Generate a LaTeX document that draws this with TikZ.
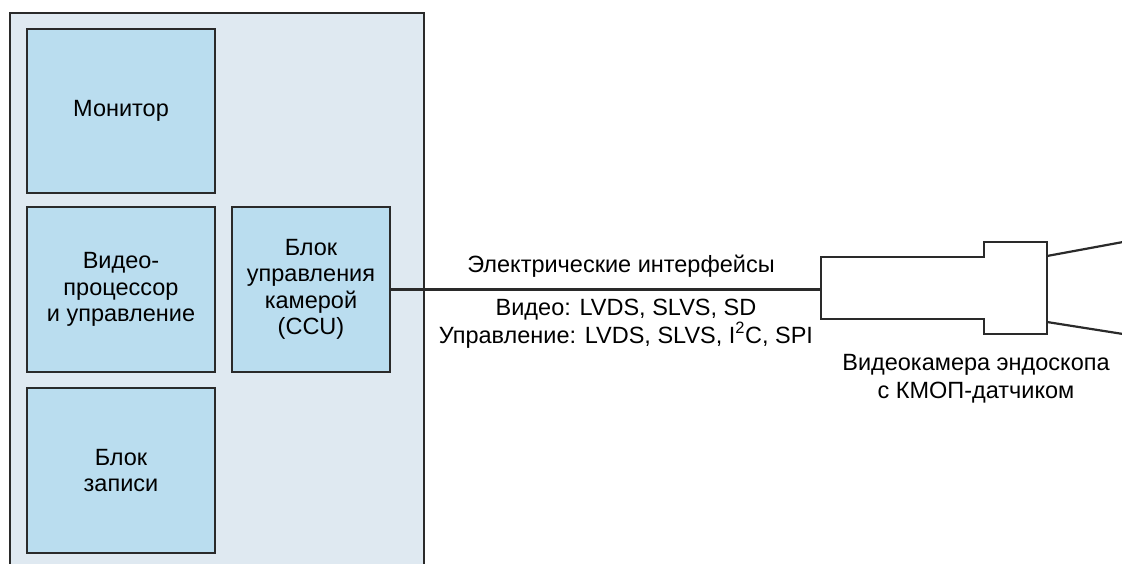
\documentclass[tikz,border=0pt]{standalone}
\usepackage{fontspec}
\setmainfont{Liberation Sans}
\definecolor{outerfill}{HTML}{DFE9F1}
\definecolor{innerfill}{HTML}{BADDEF}
\definecolor{edge}{HTML}{2A2A2A}
\begin{document}
\begin{tikzpicture}[x=1pt,y=-1pt,
  blk/.style={draw=edge,line width=2pt,fill=innerfill,inner sep=0pt,
    align=center,font=\fontsize{23.5}{26.5}\selectfont},
  lbl/.style={align=center,font=\fontsize{23.5}{27.5}\selectfont,inner sep=0pt},
  wire/.style={draw=edge,line width=2.2pt}]
\useasboundingbox (0,0) rectangle (1122,564);
\fill[white] (0,0) rectangle (1122,564);
% outer unit
\draw[draw=edge,line width=2pt,fill=outerfill] (10,580) -- (10,13) -- (424,13) -- (424,580);
% inner blocks
\node[blk,minimum width=188pt,minimum height=164pt] (mon) at (121,111) {Монитор};
\node[blk,minimum width=188pt,minimum height=165pt] (vp) at (121,289.5) {Видео-\\процессор\\и управление};
\node[blk,minimum width=158pt,minimum height=164pt] (ccu) at (311,289.5) {Блок\\управления\\камерой\\(CCU)};
\node[blk,minimum width=188pt,minimum height=165pt] (rec) at (121,470.5) {Блок\\записи};
% camera
\coordinate (camw) at (821,289.5);
\draw[draw=edge,line width=2.2pt,line join=miter]
  (821,257) -- (984,257) -- (984,242) -- (1047,242) -- (1047,334) -- (984,334) -- (984,319) -- (821,319) -- cycle;
\coordinate (cone1) at (1047,256);
\coordinate (cone2) at (1047,322);
\coordinate (cone1e) at (1123,242);
\coordinate (cone2e) at (1123,334);
\draw[wire] (cone1) -- (cone1e);
\draw[wire] (cone2) -- (cone2e);
% connector
\draw[wire] (ccu.east) -- (camw);
% labels
\node[lbl] (ei) at (621,266) {Электрические интерфейсы};
\node[lbl] (ifc) at (626,323.5) {Видео: LVDS, SLVS, SD\\Управление: LVDS, SLVS, I\textsuperscript{2}C, SPI};
\node[lbl] (cam) at (976,379) {Видеокамера эндоскопа\\с КМОП-датчиком};
\end{tikzpicture}
\end{document}
